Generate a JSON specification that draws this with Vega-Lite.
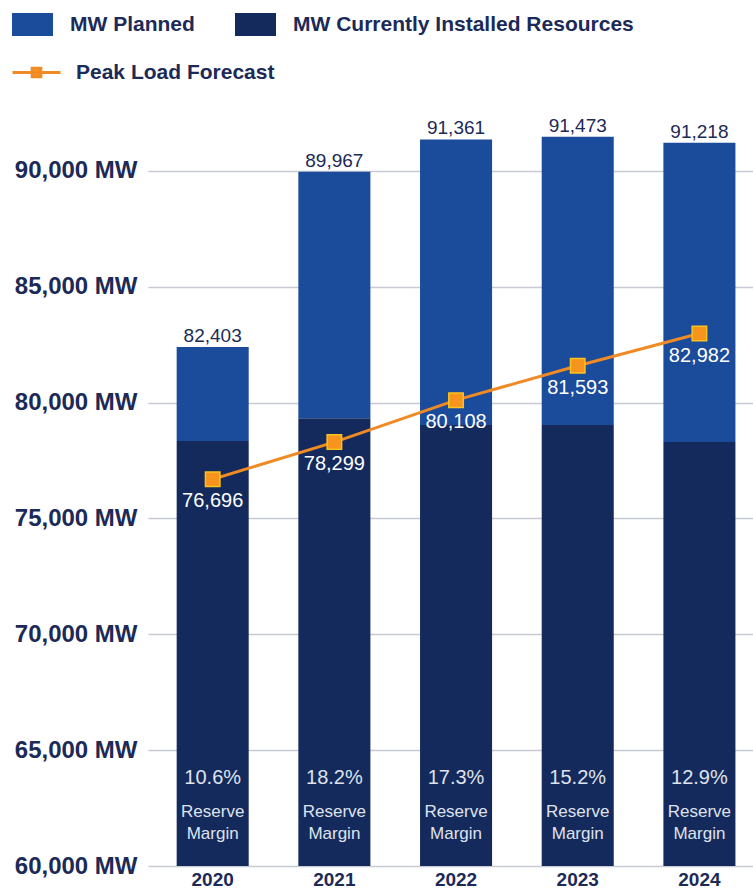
{
  "$schema": "https://vega.github.io/schema/vega-lite/v6.json",
  "autosize": {"type": "none"},
  "padding": {"left": 148, "top": 100, "right": 0, "bottom": 25},
  "width": 605,
  "height": 766,
  "background": "white",
  "config": {"view": {"stroke": null}},
  "data": {
    "values": [
      {"year": "2020", "total": 82403, "installed": 78340, "peak": 76696, "margin": "10.6%"},
      {"year": "2021", "total": 89967, "installed": 79330, "peak": 78299, "margin": "18.2%"},
      {"year": "2022", "total": 91361, "installed": 79035, "peak": 80108, "margin": "17.3%"},
      {"year": "2023", "total": 91473, "installed": 79035, "peak": 81593, "margin": "15.2%"},
      {"year": "2024", "total": 91218, "installed": 78300, "peak": 82982, "margin": "12.9%"}
    ]
  },
  "encoding": {
    "x": {
      "field": "year", "type": "nominal", "sort": null,
      "scale": {"paddingInner": 0.408, "paddingOuter": 0.19, "align": 0.62},
      "axis": {
        "title": null, "labelAngle": 0, "ticks": false, "domain": false,
        "labelFont": "Liberation Sans", "labelFontWeight": "bold", "labelFontSize": 19,
        "labelColor": "#1c2a57", "labelPadding": 4, "labelBaseline": "top"
      }
    }
  },
  "layer": [
    {
      "mark": {"type": "bar"},
      "encoding": {
        "y": {
          "field": "installed", "type": "quantitative",
          "scale": {"domain": [60000, 93064], "nice": false, "zero": false},
          "axis": {
            "title": null, "values": [60000, 65000, 70000, 75000, 80000, 85000, 90000],
            "format": ",d", "labelExpr": "datum.label + ' MW'",
            "ticks": false, "domain": false, "grid": true, "gridColor": "#c8cad3", "gridWidth": 1.5,
            "labelFont": "Liberation Sans", "labelFontWeight": "bold", "labelFontSize": 24,
            "labelColor": "#1c2a57", "labelPadding": 11, "labelBaseline": "middle"
          }
        },
        "y2": {"datum": 60000},
        "color": {
          "datum": "MW Currently Installed Resources",
          "scale": {"domain": ["MW Planned", "MW Currently Installed Resources"], "range": ["#1b4b9b", "#152a5c"]},
          "legend": {
            "title": null, "orient": "none", "legendX": -136, "legendY": -96, "direction": "horizontal",
            "padding": 0, "symbolType": "M-1,-0.56H1V0.56H-1Z", "symbolSize": 1681, "symbolStrokeWidth": 0,
            "symbolOpacity": 1, "labelFont": "Liberation Sans",
            "labelFontWeight": "bold", "labelFontSize": 21, "labelColor": "#1c2a57", "labelOffset": 17,
            "columnPadding": 40, "labelLimit": 500
          }
        }
      }
    },
    {
      "mark": {"type": "bar"},
      "encoding": {
        "y": {"field": "total", "type": "quantitative"},
        "y2": {"field": "installed"},
        "color": {"datum": "MW Planned"}
      }
    },
    {
      "mark": {"type": "text", "font": "Liberation Sans", "fontSize": 19, "color": "#1c2a57", "baseline": "alphabetic", "dy": -5},
      "encoding": {
        "y": {"field": "total", "type": "quantitative"},
        "text": {"field": "total", "type": "quantitative", "format": ",d"}
      }
    },
    {
      "mark": {"type": "line", "strokeWidth": 3},
      "encoding": {
        "y": {"field": "peak", "type": "quantitative"},
        "stroke": {
          "datum": "Peak Load Forecast",
          "scale": {"domain": ["Peak Load Forecast"], "range": ["#ef8a24"]},
          "legend": {
            "title": null, "orient": "none", "legendX": -137, "legendY": -53, "padding": 0,
            "symbolType": "M-1,0H1M-0.18,-0.18H0.18V0.18H-0.18Z", "symbolSize": 2304,
            "symbolStrokeWidth": 3, "symbolFillColor": "#f7941d", "symbolOpacity": 1,
            "labelFont": "Liberation Sans",
            "labelFontWeight": "bold", "labelFontSize": 21, "labelColor": "#1c2a57", "labelOffset": 14, "labelLimit": 500
          }
        }
      }
    },
    {
      "mark": {"type": "point", "shape": "square", "filled": true, "size": 210, "fill": "#f7941d", "stroke": "#f9c31f", "strokeWidth": 1.5, "opacity": 1},
      "encoding": {
        "y": {"field": "peak", "type": "quantitative"}
      }
    },
    {
      "mark": {"type": "text", "font": "Liberation Sans", "fontSize": 20, "color": "#ffffff", "baseline": "middle", "dy": 22},
      "encoding": {
        "y": {"field": "peak", "type": "quantitative"},
        "text": {"field": "peak", "type": "quantitative", "format": ",d"}
      }
    },
    {
      "mark": {"type": "text", "font": "Liberation Sans", "fontSize": 20, "color": "#dfe3ee", "baseline": "middle"},
      "encoding": {
        "y": {"datum": 63800},
        "text": {"field": "margin", "type": "nominal"}
      }
    },
    {
      "mark": {"type": "text", "font": "Liberation Sans", "fontSize": 17, "color": "#dfe3ee", "baseline": "middle", "lineHeight": 22},
      "encoding": {
        "y": {"datum": 62330},
        "text": {"value": ["Reserve", "Margin"]}
      }
    }
  ]
}
